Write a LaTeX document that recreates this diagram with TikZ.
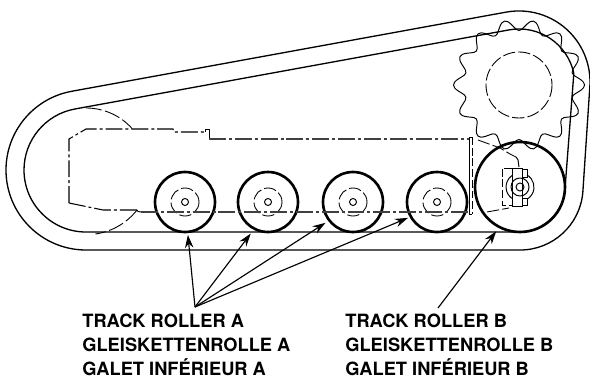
\documentclass[tikz,border=0pt]{standalone}
\usepackage{fontspec}
\setmainfont{TeX Gyre Heros}
\usetikzlibrary{arrows.meta}
\tikzset{>=stealth}
\tikzset{%
    track/.style={line width=0.75pt},
    thin part/.style={line width=0.55pt},
    phantom/.style={line width=0.6pt,black!75,dash pattern=on 9.6pt off 1.7pt on 1.7pt off 1.7pt},
    hidden/.style={line width=0.5pt,dash pattern=on 7pt off 1.8pt},
    roller/.style={draw,circle,line width=1.5pt,inner sep=0pt,minimum size=1.2cm},
    big roller/.style={roller,minimum size=1.8cm},
    pointer/.style={-{Stealth[length=7.4pt,width=4.8pt]},line width=0.65pt,shorten >=1pt},
    caption/.style={anchor=north west,align=left,inner sep=0pt,font=\bfseries\fontsize{10.4}{13.8}\selectfont}
}

\begin{document}
\begin{tikzpicture}[x=0.02cm,y=-0.02cm]
\useasboundingbox (0,0) rectangle (590,378);

% track, outside and inside
\draw[track] (86,250) arc[start angle=90,end angle=259.7,radius=80]
    -- (506.3,12.1) arc[start angle=259.7,end angle=365,radius=71]
    -- (582.8,192.5) arc[start angle=5,end angle=90,radius=63] -- cycle;
\draw[track] (86,232) arc[start angle=90,end angle=259.67,radius=62]
    -- (509,29.9) arc[start angle=259.67,end angle=348,radius=56]
    -- (564.8,191.4) arc[start angle=5.6,end angle=90,radius=45] -- cycle;

% sprocket
\draw[thin part] plot[domain=0:360,samples=141,smooth cycle] ({519+(60+5.5*cos(14*\x))*cos(\x)},{85+(60+5.5*cos(14*\x))*sin(\x)});
\draw[hidden] (519,85) circle[radius=33];

% rollers
\node[roller] (rollerA) at (185,202) {};
\node[roller] (rollerB) at (268,202) {};
\node[roller] (rollerC) at (353,202) {};
\node[roller] (rollerD) at (437,202) {};
\node[big roller] (rollerE) at (520,187) {};

\draw[hidden] (185,202) circle[radius=14];
\draw[hidden] (268,202) circle[radius=14];
\draw[hidden] (353,202) circle[radius=14];
\draw[hidden] (437,202) circle[radius=14];
\draw[thin part] (185,202) circle[radius=3.5];
\draw[thin part] (268,202) circle[radius=3.5];
\draw[thin part] (353,202) circle[radius=3.5];
\draw[thin part] (437,202) circle[radius=3.5];

% frame outline
\draw[phantom,black] (69,203) -- (69,139) -- (86,129) -- (173,129) -- (174,132) -- (205,132);
\draw[thin part] (205,132) -- (205,129.5) -- (209,129.5) -- (209,139);
\draw[phantom] (209,139) -- (469,139);
\draw[phantom,black] (69,203) -- (103,210) -- (137,210);
\draw[phantom] (141,212) -- (469,212);
\draw[thin part] (137,210) -- (138,211.5) -- (141,212);
\draw[hidden,dash pattern=on 9pt off 2pt] (86,108) arc[start angle=270,end angle=318,radius=62];
\draw[hidden,dash pattern=on 9pt off 2pt] (137,210) arc[start angle=38,end angle=82,radius=64];

% plate at the end of the frame
\draw[thin part] (472,137) -- (469.5,137) -- (469.5,214) -- (472,214);
\draw[hidden,dash pattern=on 4.5pt off 1.6pt] (472,137) -- (472,214);

% hub of the big roller
\draw[thin part] (512,168) rectangle (522,206);
\draw[thin part] (522,169) rectangle (527,177);
\draw[thin part] (522,198) rectangle (527,205);
\draw[hidden,dash pattern=on 4.5pt off 1.6pt] (512,168) -- (502,168) -- (502,205) -- (512,205);
\draw[thin part] (520,187) circle[radius=4];
\draw[thin part] (520,187) circle[radius=9];
\draw[thin part] (527,175) arc[start angle=-60,end angle=60,radius=14];
\draw[thin part] (512,175.5) arc[start angle=235,end angle=125,radius=14];
\draw[hidden] (478,140) -- (500,148) -- (510,154) -- (516,157);
\draw[thin part] (516,157) -- (518,160) -- (519,167);
\draw[hidden] (487,212) -- (509,208);

% labels
\coordinate (apexA) at (195,307);
\coordinate (apexB) at (438,308);
\draw[pointer] (apexA) -- (rollerA.275);
\draw[pointer] (apexA) -- ([shift={(-1.5,2.5)}]rollerB.242);
\draw[pointer] (apexA) -- ([shift={(-1,1)}]rollerC.217.6);
\draw[pointer] (apexA) -- (rollerD.209);
\draw[pointer] (apexB) -- ([shift={(-1,2)}]rollerE.242);

\node[caption] (labelA) at (82,313.5) {TRACK ROLLER A\\GLEISKETTENROLLE A\\GALET INFÉRIEUR A};
\node[caption] (labelB) at (345,313.5) {TRACK ROLLER B\\GLEISKETTENROLLE B\\GALET INFÉRIEUR B};
\end{tikzpicture}
\end{document}
